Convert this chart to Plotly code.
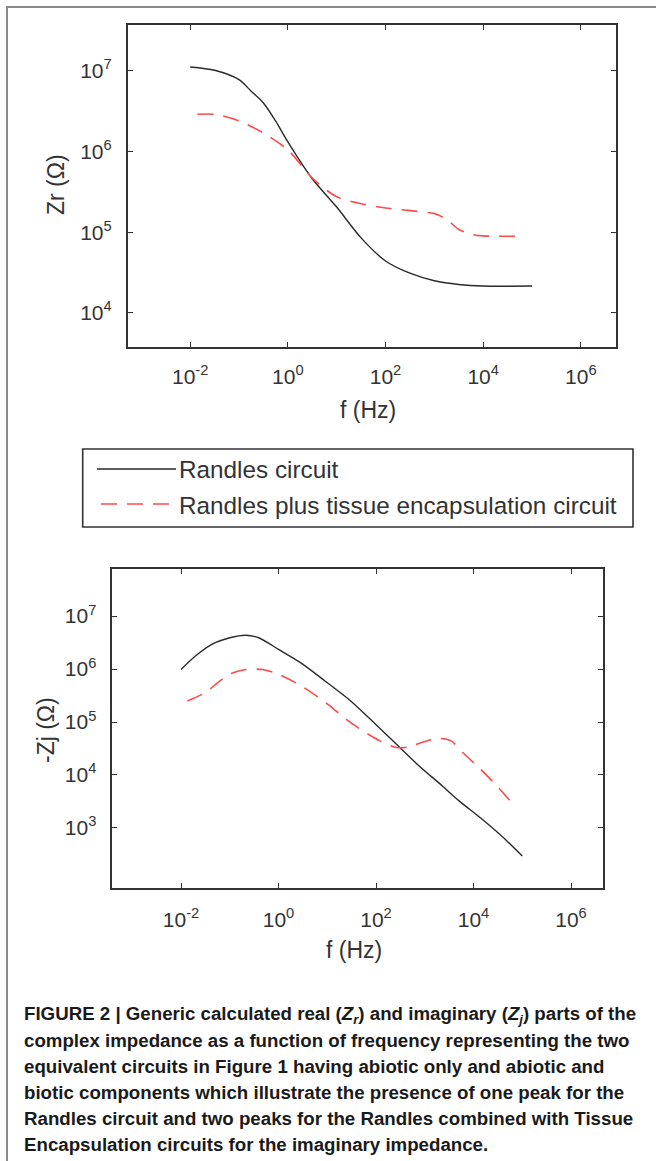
import plotly.graph_objects as go

W, H = 656, 1161

# ---------------- data ----------------
# top panel: real part Zr
freq_r_black = [0.01, 0.0316, 0.1, 0.178, 0.316, 0.56, 1, 3.16, 10, 31.6, 100, 316, 1000, 3162, 10000, 100000]
zr_black = [1.12e7, 1.02e7, 7.8e6, 5.6e6, 4.0e6, 2.4e6, 1.32e6, 4.6e5, 2.05e5, 8.5e4, 4.4e4, 3.1e4, 2.5e4, 2.25e4, 2.15e4, 2.15e4]

freq_r_red = [0.0141, 0.0316, 0.1, 0.316, 1, 3.16, 10, 31.6, 100, 316, 1000, 1778, 3162, 6310, 10000, 70000]
zr_red = [2.9e6, 2.9e6, 2.4e6, 1.7e6, 1.05e6, 4.7e5, 2.75e5, 2.25e5, 2.0e5, 1.85e5, 1.7e5, 1.45e5, 1.08e5, 9.3e4, 9.0e4, 8.9e4]

# bottom panel: imaginary part -Zj
freq_j_black = [0.01, 0.02, 0.0437, 0.1, 0.214, 0.39, 1, 2.82, 9.1, 30.2, 97.7, 263, 708, 2290, 5130, 13800, 37200, 100000]
zj_black = [9.8e5, 1.78e6, 2.95e6, 3.9e6, 4.35e6, 3.9e6, 2.35e6, 1.32e6, 5.9e5, 2.5e5, 9.1e4, 3.8e4, 1.58e4, 6.2e3, 3.2e3, 1.55e3, 7.1e2, 2.95e2]

freq_j_red = [0.0135, 0.0316, 0.056, 0.1, 0.214, 0.47, 1, 3.16, 10, 24.5, 53.7, 120, 263, 479, 870, 1900, 3470, 6170, 13800, 30200, 69200]
zj_red = [2.5e5, 3.6e5, 5.5e5, 8.0e5, 9.8e5, 9.8e5, 8.0e5, 4.6e5, 2.2e5, 1.12e5, 6.8e4, 4.4e4, 3.3e4, 3.4e4, 4.1e4, 4.9e4, 4.4e4, 2.6e4, 1.29e4, 6.2e3, 2.6e3]

x_tickvals = [1e-2, 1e0, 1e2, 1e4, 1e6]
x_ticktext = ["10<sup>-2</sup>", "10<sup>0</sup>", "10<sup>2</sup>", "10<sup>4</sup>", "10<sup>6</sup>"]
y1_tickvals = [1e4, 1e5, 1e6, 1e7]
y1_ticktext = ["10<sup>4</sup>", "10<sup>5</sup>", "10<sup>6</sup>", "10<sup>7</sup>"]
y2_tickvals = [1e3, 1e4, 1e5, 1e6, 1e7]
y2_ticktext = ["10<sup>3</sup>", "10<sup>4</sup>", "10<sup>5</sup>", "10<sup>6</sup>", "10<sup>7</sup>"]

legend_names = ["Randles circuit", "Randles plus tissue encapsulation circuit"]

caption_lines = [
    "FIGURE 2 | Generic calculated real (<i>Z<sub>r</sub></i>) and imaginary (<i>Z<sub>j</sub></i>) parts of the",
    "complex impedance as a function of frequency representing the two",
    "equivalent circuits in Figure 1 having abiotic only and abiotic and",
    "biotic components which illustrate the presence of one peak for the",
    "Randles circuit and two peaks for the Randles combined with Tissue",
    "Encapsulation circuits for the imaginary impedance.",
]

# ---------------- styling ----------------
BLACK = "#2a2a2a"
RED = "#ff4a4a"
AX = "#333333"
FONT = "Liberation Sans, Arial, sans-serif"
DASH = "16px,10px"


def px(xp):
    return xp / W


def py(yp):
    return 1 - yp / H


fig = go.Figure()
fig.add_trace(go.Scatter(x=freq_r_black, y=zr_black, mode="lines", name=legend_names[0],
                         line=dict(color=BLACK, width=1.4, shape="spline", smoothing=0.8),
                         xaxis="x", yaxis="y", showlegend=False))
fig.add_trace(go.Scatter(x=freq_r_red, y=zr_red, mode="lines", name=legend_names[1],
                         line=dict(color=RED, width=1.6, dash=DASH, shape="spline", smoothing=0.8),
                         xaxis="x", yaxis="y", showlegend=False))
fig.add_trace(go.Scatter(x=freq_j_black, y=zj_black, mode="lines", name=legend_names[0],
                         line=dict(color=BLACK, width=1.4, shape="spline", smoothing=0.8),
                         xaxis="x2", yaxis="y2", showlegend=False))
fig.add_trace(go.Scatter(x=freq_j_red, y=zj_red, mode="lines", name=legend_names[1],
                         line=dict(color=RED, width=1.6, dash=DASH, shape="spline", smoothing=0.8),
                         xaxis="x2", yaxis="y2", showlegend=False))

common = dict(type="log", showgrid=False, zeroline=False, showline=True,
              linecolor=AX, linewidth=1.6, mirror="allticks", ticks="inside",
              ticklen=5, tickwidth=1.2, tickcolor=AX,
              tickfont=dict(family=FONT, size=21, color=AX), tickmode="array")

fig.update_layout(
    width=W, height=H, autosize=False,
    margin=dict(l=0, r=0, t=0, b=0),
    paper_bgcolor="white", plot_bgcolor="white",
    showlegend=False,
    xaxis=dict(common, domain=[px(127.7), px(616)], range=[-3.28, 6.72],
               tickvals=x_tickvals, ticktext=x_ticktext, anchor="y", ticklabelstandoff=10),
    yaxis=dict(common, domain=[py(346.7), py(25)], range=[3.58, 7.57],
               tickvals=y1_tickvals, ticktext=y1_ticktext, anchor="x", ticklabelstandoff=10),
    xaxis2=dict(common, domain=[px(112.3), px(602.7)], range=[-3.41, 6.65],
                tickvals=x_tickvals, ticktext=x_ticktext, anchor="y2", ticklabelstandoff=12),
    yaxis2=dict(common, domain=[py(887.7), py(569)], range=[1.87, 7.89],
                tickvals=y2_tickvals, ticktext=y2_ticktext, anchor="x2", ticklabelstandoff=10),
)

ann = []
lab_font = dict(family=FONT, size=23, color=AX)
ann.append(dict(text="Zr (Ω)", x=px(56), y=py(185), xref="paper", yref="paper",
                showarrow=False, textangle=-90, font=lab_font, xanchor="center", yanchor="middle"))
ann.append(dict(text="f (Hz)", x=px(368), y=py(410), xref="paper", yref="paper",
                showarrow=False, font=lab_font, xanchor="center", yanchor="middle"))
ann.append(dict(text="-Zj (Ω)", x=px(46), y=py(730), xref="paper", yref="paper",
                showarrow=False, textangle=-90, font=lab_font, xanchor="center", yanchor="middle"))
ann.append(dict(text="f (Hz)", x=px(354), y=py(950), xref="paper", yref="paper",
                showarrow=False, font=lab_font, xanchor="center", yanchor="middle"))

# legend texts
leg_font = dict(family=FONT, size=24.3, color=AX)
ann.append(dict(text=legend_names[0], x=px(177), y=py(469), xref="paper", yref="paper",
                showarrow=False, font=leg_font, xanchor="left", yanchor="middle"))
ann.append(dict(text=legend_names[1], x=px(177), y=py(505), xref="paper", yref="paper",
                showarrow=False, font=leg_font, xanchor="left", yanchor="middle"))

# caption
cap_font = dict(family="Liberation Sans Narrow, Liberation Sans, Arial, sans-serif", size=18.7,
                color="#1a1a1a", weight="bold")
for i, line in enumerate(caption_lines):
    ann.append(dict(text=line, x=px(22), y=py(1015 + 25.8 * i), xref="paper", yref="paper",
                    showarrow=False, font=cap_font, xanchor="left", yanchor="middle"))

fig.update_layout(annotations=ann)

shapes = []
# outer frame (top and left visible)
shapes.append(dict(type="rect", xref="paper", yref="paper", x0=px(7), x1=px(720), y0=py(7), y1=py(1220),
                   line=dict(color="#8a8a8a", width=2), fillcolor="rgba(0,0,0,0)"))
# legend box
shapes.append(dict(type="rect", xref="paper", yref="paper", x0=px(82.7), x1=px(633), y0=py(449), y1=py(527),
                   line=dict(color=AX, width=1.6), fillcolor="rgba(0,0,0,0)"))
shapes.append(dict(type="line", xref="paper", yref="paper", x0=px(97), x1=px(176), y0=py(469), y1=py(469),
                   line=dict(color=BLACK, width=1.4)))
shapes.append(dict(type="line", xref="paper", yref="paper", x0=px(101), x1=px(176), y0=py(504), y1=py(504),
                   line=dict(color=RED, width=1.6, dash=DASH)))
fig.update_layout(shapes=shapes)

fig.write_html("out.html")
